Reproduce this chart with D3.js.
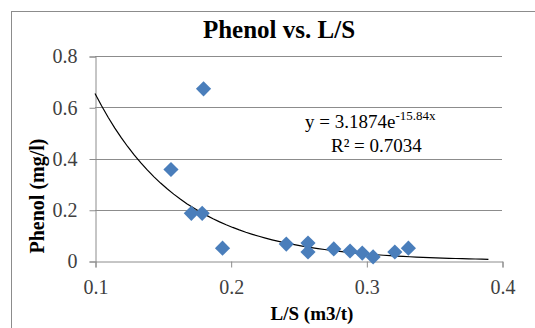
<!DOCTYPE html>
<html lang="en">
<head>
<meta charset="UTF-8">
<title>Phenol vs. L/S</title>
<style>
  body { margin: 0; background: #fff; }
  text { font-family: "Liberation Serif", "Times New Roman", serif; }
</style>
</head>
<body>
<svg id="chart" width="535" height="328"></svg>
<script src="https://d3js.org/d3.v7.min.js"></script>
<script>
// data
var lsValues     = [0.180, 0.156, 0.171, 0.179, 0.194, 0.241, 0.257, 0.257, 0.276, 0.288, 0.297, 0.305, 0.321, 0.331];
var phenolValues = [0.672, 0.357, 0.186, 0.186, 0.050, 0.066, 0.070, 0.035, 0.047, 0.039, 0.031, 0.016, 0.035, 0.050];
var xTicks = [0.1, 0.2, 0.3, 0.4];
var yTicks = [0, 0.2, 0.4, 0.6, 0.8];
// exponential trendline y = a * e^(b x)
var trendA = 3.1874, trendB = -15.84;
var trendRange = [0.1, 0.39];

var svg = d3.select("#chart");

// outer chart border (runs off the right and bottom edge)
svg.append("rect")
    .attr("x", 11.5).attr("y", 11.5)
    .attr("width", 540).attr("height", 340)
    .attr("fill", "none").attr("stroke", "#8c8c8c");

var x = d3.scaleLinear().domain([0.1, 0.4]).range([95, 502]);
var y = d3.scaleLinear().domain([0, 0.8]).range([261, 56]);

// horizontal gridlines
svg.append("g")
    .selectAll("line")
    .data(yTicks.filter(function(d) { return d > 0; }))
    .enter().append("line")
    .attr("x1", 95).attr("x2", 502)
    .attr("y1", function(d) { return Math.round(y(d)) + 0.5; })
    .attr("y2", function(d) { return Math.round(y(d)) + 0.5; })
    .attr("stroke", "#8c8c8c");

// y axis
var yAxis = svg.append("g")
    .attr("transform", "translate(95.5,0.5)")
    .call(d3.axisLeft(y).tickValues(yTicks).tickSize(6).tickPadding(12)
        .tickFormat(function(d) { return d === 0 ? "0" : d3.format(".1f")(d); }));

// x axis
var xAxis = svg.append("g")
    .attr("transform", "translate(0.5,261.5)")
    .call(d3.axisBottom(x).tickValues(xTicks).tickSize(6).tickPadding(12)
        .tickFormat(d3.format(".1f")));

[yAxis, xAxis].forEach(function(g) {
    g.select(".domain").attr("stroke", "#8c8c8c");
    g.selectAll(".tick line").attr("stroke", "#8c8c8c");
    g.selectAll(".tick text")
        .attr("fill", "#404040")
        .style("font-family", "'Liberation Serif', serif")
        .style("font-size", "20px");
});

// trendline
var trendPts = d3.range(0, 61).map(function(i) {
    var v = trendRange[0] + (trendRange[1] - trendRange[0]) * i / 60;
    return [v, trendA * Math.exp(trendB * v)];
});
svg.append("path")
    .datum(trendPts)
    .attr("fill", "none")
    .attr("stroke", "#000")
    .attr("stroke-width", 1.2)
    .attr("d", d3.line()
        .x(function(d) { return x(d[0]); })
        .y(function(d) { return y(d[1]); }));

// diamonds
var points = lsValues.map(function(v, i) { return [v, phenolValues[i]]; });
svg.append("g")
    .selectAll("path")
    .data(points)
    .enter().append("path")
    .attr("d", d3.symbol().type(d3.symbolSquare).size(115))
    .attr("transform", function(d) {
        return "translate(" + x(d[0]) + "," + y(d[1]) + ") rotate(45)";
    })
    .attr("fill", "#4a7ebb");

// title
svg.append("text")
    .attr("x", 279).attr("y", 38)
    .attr("text-anchor", "middle")
    .attr("font-weight", "bold")
    .attr("font-size", 25)
    .attr("fill", "#000")
    .text("Phenol vs. L/S");

// axis titles
svg.append("text")
    .attr("x", 312).attr("y", 320)
    .attr("text-anchor", "middle")
    .attr("font-weight", "bold")
    .attr("font-size", 19)
    .text("L/S (m3/t)");

svg.append("text")
    .attr("transform", "translate(44,196) rotate(-90)")
    .attr("text-anchor", "middle")
    .attr("font-weight", "bold")
    .attr("font-size", 20)
    .text("Phenol (mg/l)");

// trendline equation
var eq = svg.append("text")
    .attr("x", 305).attr("y", 128)
    .attr("font-size", 19)
    .attr("fill", "#000");
eq.append("tspan").text("y = " + trendA + "e");
eq.append("tspan").attr("dy", -8).attr("font-size", 13).text(trendB + "x");

svg.append("text")
    .attr("x", 331).attr("y", 152)
    .attr("font-size", 19)
    .text("R\u00b2 = 0.7034");
</script>
</body>
</html>
